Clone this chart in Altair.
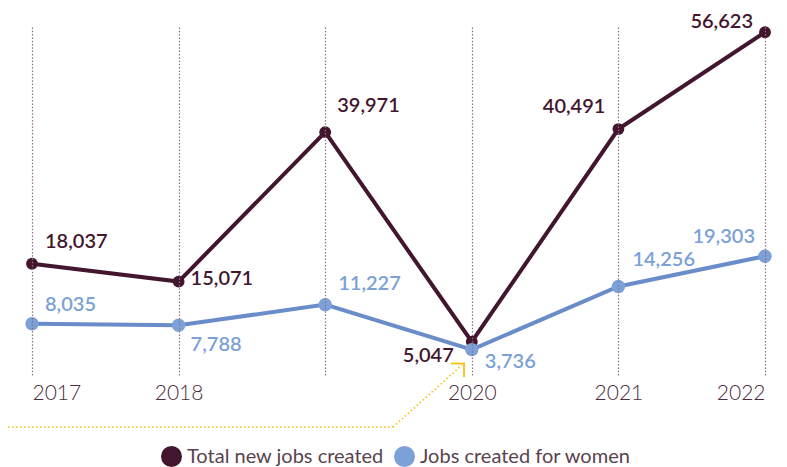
import altair as alt
import pandas as pd

years = [2017, 2018, 2019, 2020, 2021, 2022]
total_jobs = [18037, 15071, 39971, 5047, 40491, 56623]
women_jobs = [8035, 7788, 11227, 3736, 14256, 19303]
series_names = ["Total new jobs created", "Jobs created for women"]
tick_labels = ["2017", "2018", "", "2020", "2021", "2022"]

DARK = "#43162f"
BLUE_LINE = "#6a8dca"
BLUE_LIGHT = "#7ba1d8"
YELLOW = "#f4c20d"
FONT = "Lato"

rows = []
for yr, t, w in zip(years, total_jobs, women_jobs):
    rows.append({"year": yr, "value": t, "series": series_names[0]})
    rows.append({"year": yr, "value": w, "series": series_names[1]})
df = pd.DataFrame(rows)
df["label"] = df["value"].map(lambda v: f"{v:,}")

S0, S1 = series_names

label_expr = ("[" + ",".join(f"'{s}'" for s in tick_labels) + "][indexof("
              + str(years) + ", datum.value)]")

x = alt.X("year:Q",
          scale=alt.Scale(domain=[years[0], years[-1]], nice=False, zero=False),
          axis=alt.Axis(values=years, labelExpr=label_expr, title=None,
                        grid=True, gridDash=[1.5, 1.8], gridColor="#8f6f80",
                        gridWidth=1.2, domain=False, ticks=False,
                        labelFont=FONT, labelFontSize=21, labelColor="#4b2d3f",
                        labelFontWeight=300, labelPadding=7, zindex=1))
y = alt.Y("value:Q", scale=alt.Scale(domain=[-500, 57500], nice=False, zero=False),
          axis=None)

base = alt.Chart(df)

lines = base.mark_line(strokeWidth=4).encode(
    x=x, y=y,
    color=alt.condition(alt.datum.series == S0, alt.value(DARK), alt.value(BLUE_LINE)),
    detail="series:N",
)

points = base.mark_circle(opacity=1).encode(
    x=x, y=y,
    color=alt.Color("series:N", scale=alt.Scale(domain=series_names, range=[DARK, BLUE_LIGHT]),
                    legend=alt.Legend(title=None, orient="none", legendX=129, legendY=419,
                                      direction="horizontal", symbolType="circle",
                                      symbolSize=441, symbolStrokeWidth=0,
                                      symbolOpacity=1,
                                      labelFont=FONT, labelFontSize=20,
                                      labelColor="#5a4350", labelOffset=5,
                                      columnPadding=10, padding=0, labelLimit=400)),
    size=alt.condition(alt.datum.series == S0, alt.value(140), alt.value(180)),
)


def labels(series, yrs, align, dx, dy, color):
    cond = f"datum.series == '{series}' && indexof({yrs}, datum.year) >= 0"
    return base.transform_filter(cond).mark_text(
        align=align, baseline="middle", dx=dx, dy=dy, font=FONT, fontSize=20,
        fontWeight=600, color=color).encode(x=x, y=y, text="label:N")


text_layers = [
    labels(S0, [2017], "left", 13, -22, DARK),
    labels(S0, [2019], "left", 12, -26, DARK),
    labels(S0, [2018], "left", 12, -3, DARK),
    labels(S0, [2020], "right", -18, 14, DARK),
    labels(S0, [2021], "right", -13, -22, DARK),
    labels(S0, [2022], "right", -12, -10, DARK),
    labels(S1, [2017], "left", 13, -19, BLUE_LIGHT),
    labels(S1, [2019], "left", 13, -21, BLUE_LIGHT),
    labels(S1, [2018], "left", 12, 20, BLUE_LIGHT),
    labels(S1, [2020], "left", 13, 12, BLUE_LIGHT),
    labels(S1, [2021], "left", 14, -26, BLUE_LIGHT),
    labels(S1, [2022], "right", -10, -19, BLUE_LIGHT),
]

arrow_src = alt.Chart(pd.DataFrame({"a": [0]}))
arrow = [
    arrow_src.mark_rule(color=YELLOW, strokeWidth=1.6, strokeDash=[1.5, 2.5]).encode(
        x=alt.value(-40), x2=alt.value(361), y=alt.value(400)),
    arrow_src.mark_rule(color=YELLOW, strokeWidth=1.6, strokeDash=[1.5, 2.5]).encode(
        x=alt.value(361), x2=alt.value(430), y=alt.value(400), y2=alt.value(338)),
    arrow_src.mark_rule(color=YELLOW, strokeWidth=1.8).encode(
        x=alt.value(419), x2=alt.value(433), y=alt.value(336.5)),
    arrow_src.mark_rule(color=YELLOW, strokeWidth=1.8).encode(
        x=alt.value(432), y=alt.value(336), y2=alt.value(350)),
]

chart = alt.layer(lines, points, *text_layers, *arrow).properties(
    width=733, height=348,
    autosize=alt.AutoSizeParams(type="none"),
    padding={"left": 24, "top": 19, "right": 14, "bottom": 93},
    background="white",
).configure_view(stroke=None)

chart.save("out.html", embed_options={"renderer": "svg", "actions": False})
